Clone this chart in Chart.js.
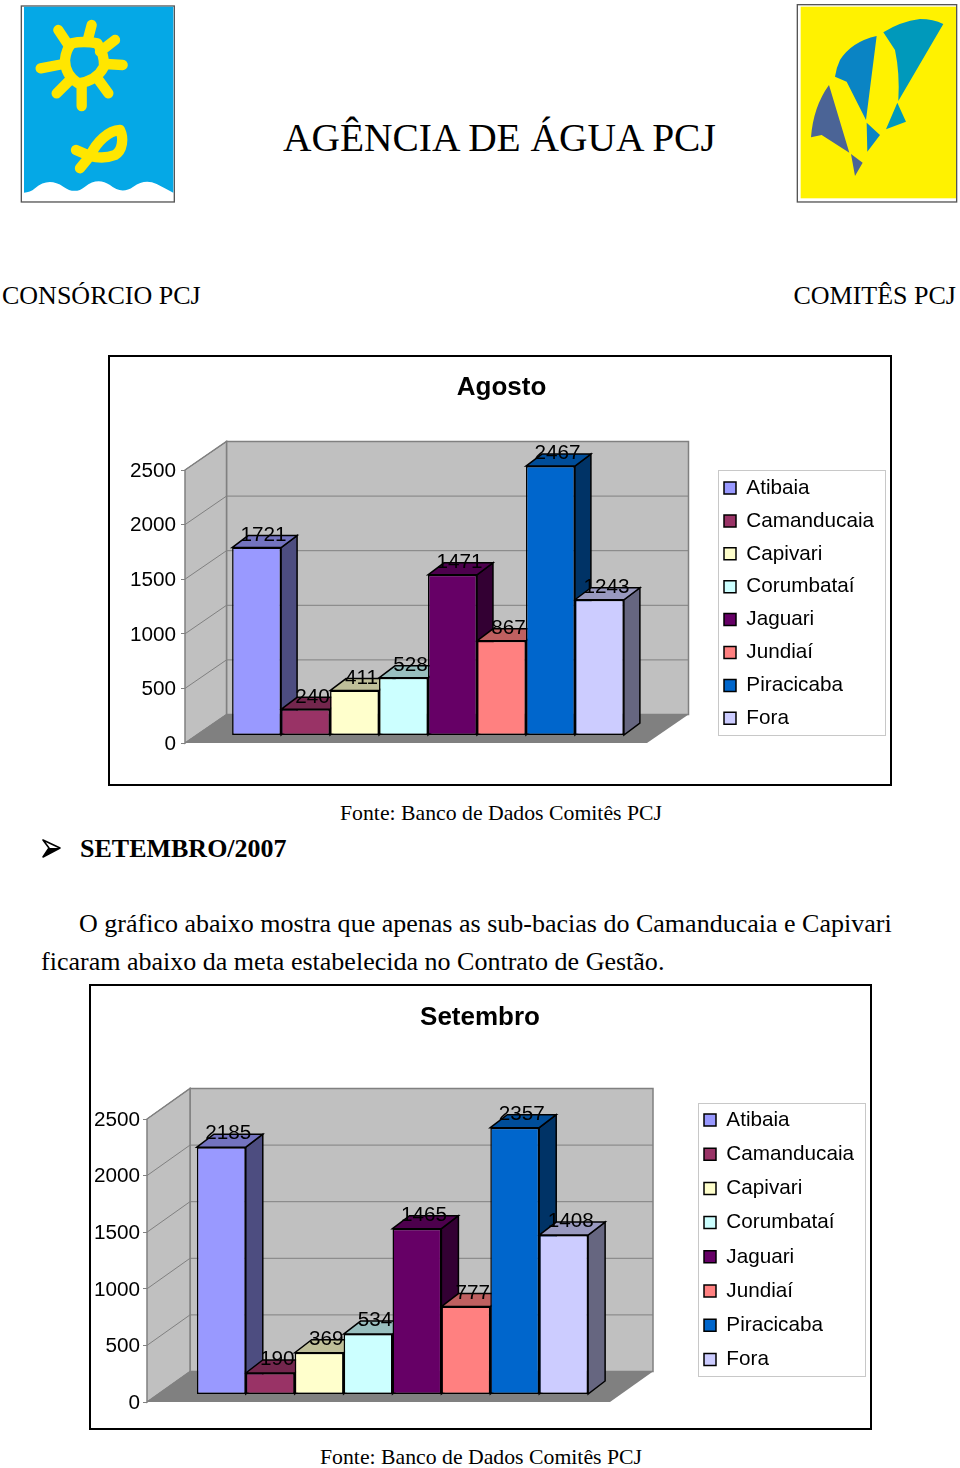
<!DOCTYPE html>
<html>
<head>
<meta charset="utf-8">
<title>Agência de Água PCJ</title>
<script src="https://cdn.jsdelivr.net/npm/chart.js@4"></script>
<style>
html, body { margin: 0; padding: 0; background: #fff; }
#page { position: relative; width: 960px; height: 1468px; overflow: hidden; font-family: "Liberation Serif", serif; color: #000; }
#page span { position: absolute; white-space: nowrap; line-height: 1; }
#page canvas { position: absolute; }
#logos { position: absolute; left: 0; top: 0; }
</style>
</head>
<body>
<div id="page">
  <svg id="logos" width="960" height="1468" viewBox="0 0 960 1468">
    <!-- left logo, sun and fish -->
    <g transform="scale(0.3333)">
      <rect x="64" y="18" width="459" height="588" fill="#fff" stroke="#555" stroke-width="4"/>
      <path d="M72,20 H520 V578 Q495,565 470,552 Q435,535 400,560 Q365,585 330,555 Q293,530 255,560 Q225,585 190,560 Q145,530 105,565 Q90,578 72,578 Z" fill="#05a8e6"/>
      <g fill="none" stroke="#ffe600" stroke-width="31" stroke-linecap="round" stroke-linejoin="round">
        <path d="M215,130 Q250,122 292,130 Q314,165 312,200 Q290,243 235,250 Q195,225 195,180 Q198,148 215,130 Z"/>
        <path d="M175,90 L205,135 M275,75 L262,125 M345,120 L300,155 M368,195 L318,192 M325,280 L290,232 M245,318 L245,255 M170,280 L210,240 M122,205 L190,192"/>
        <path d="M228,450 L270,468 M240,505 L270,468 M270,468 C290,425 325,392 360,390 C372,415 368,452 345,465 C320,475 290,473 270,468 Z"/>
      </g>
    </g>
    <!-- right logo, sails -->
    <g transform="translate(780,0) scale(0.3333)">
      <rect x="52" y="14" width="478" height="592" fill="#fff" stroke="#555" stroke-width="4"/>
      <rect x="62" y="20" width="466" height="575" fill="#fff200"/>
      <path d="M310,97 Q360,65 420,57 Q460,57 490,72 L355,303 Q360,220 345,150 Z M352,308 L378,365 L318,388 Z" fill="#0099bb"/>
      <path d="M290,108 Q215,125 180,180 Q168,205 165,230 L200,245 L258,360 Z M260,368 L300,405 L262,455 Z" fill="#0a84c4"/>
      <path d="M147,255 Q100,320 93,412 L125,405 L208,458 Z M213,462 L248,488 L225,528 Z" fill="#4b6496"/>
    </g>
    <!-- bullet arrow -->
    <path d="M43,840 L60,848 L43,857 L49,848 Z" fill="#fff" stroke="#000" stroke-width="1.6" stroke-linejoin="round"/>
    <path d="M43,857 L60,848 L49,848 Z" fill="#000"/>
  </svg>

  <span style="left:283px;top:119px;font-size:39.45px;">AGÊNCIA DE ÁGUA PCJ</span>
  <span style="left:2px;top:283px;font-size:26px;">CONSÓRCIO PCJ</span>
  <span style="right:4px;top:283px;font-size:26px;">COMITÊS PCJ</span>
  <span style="left:340px;top:803px;font-size:21.75px;">Fonte: Banco de Dados Comitês PCJ</span>
  <span style="left:80px;top:836px;font-size:26px;font-weight:bold;">SETEMBRO/2007</span>
  <span style="left:79px;top:911px;font-size:26.03px;">O gráfico abaixo mostra que apenas as sub-bacias do Camanducaia e Capivari</span>
  <span style="left:41px;top:948.5px;font-size:26.03px;">ficaram abaixo da meta estabelecida no Contrato de Gestão.</span>
  <span style="left:320px;top:1447px;font-size:21.75px;">Fonte: Banco de Dados Comitês PCJ</span>

  <canvas id="agosto" width="784" height="431" style="left:108px;top:355px;"></canvas>
  <canvas id="setembro" width="783" height="446" style="left:89px;top:984px;"></canvas>
</div>

<script>
// Data
var bacias = ["Atibaia", "Camanducaia", "Capivari", "Corumbataí", "Jaguari", "Jundiaí", "Piracicaba", "Fora"];
var agosto = [1721, 240, 411, 528, 1471, 867, 2467, 1243];
var setembro = [2185, 190, 369, 534, 1465, 777, 2357, 1408];
var yTicks = [0, 500, 1000, 1500, 2000, 2500];
var colors = ["#9999ff", "#993366", "#ffffcc", "#ccffff", "#660066", "#ff8080", "#0066cc", "#ccccff"];

var FONT = "'Liberation Sans', Arial, sans-serif";

// darker version of a bar colour, for the side and the top
function shade(hex, f) {
  var n = parseInt(hex.slice(1), 16);
  var r = Math.round((n >> 16) * f), g = Math.round(((n >> 8) & 255) * f), b = Math.round((n & 255) * f);
  return "rgb(" + r + "," + g + "," + b + ")";
}

function poly(ctx, pts, fill, stroke, lw) {
  ctx.beginPath();
  pts.forEach(function (p, i) { i ? ctx.lineTo(p[0], p[1]) : ctx.moveTo(p[0], p[1]); });
  ctx.closePath();
  if (fill) { ctx.fillStyle = fill; ctx.fill(); }
  if (stroke) { ctx.strokeStyle = stroke; ctx.lineWidth = lw; ctx.stroke(); }
}

// Fake 3D look: walls, floor, bar sides, frame and value labels
var depth3d = {
  id: "depth3d",
  afterLayout: function (chart, args, o) {
    var lg = chart.legend, pad = o.legendGap - 20.7;
    lg.left = o.legendX - pad;
    lg.right = o.legendX + 200;
    lg.top = o.legendY - 10.35 - pad;
    lg.bottom = chart.height + 100;
    // title is centred on the frame, not on what the legend leaves over
    chart.titleBlock.left = o.titleX - chart.width / 2;
    chart.titleBlock.right = o.titleX + chart.width / 2;
  },
  beforeDraw: function (chart, args, o) {
    var ctx = chart.ctx;
    ctx.save();
    ctx.strokeStyle = "#000";
    ctx.lineWidth = 2;
    ctx.strokeRect(1, 1, chart.width - 2, chart.height - 2);
    ctx.strokeStyle = "#c8c8c8";
    ctx.lineWidth = 1;
    ctx.strokeRect(o.legendBox[0] + 0.5, o.legendBox[1] + 0.5, o.legendBox[2], o.legendBox[3]);
    ctx.restore();
  },
  beforeDatasetsDraw: function (chart, args, o) {
    var ctx = chart.ctx, a = chart.chartArea, y = chart.scales.y;
    var dx = o.wall[0], dy = o.wall[1];
    ctx.save();
    poly(ctx, [[a.left + dx, a.top + dy], [a.right + dx, a.top + dy], [a.right + dx, a.bottom + dy], [a.left + dx, a.bottom + dy]], "#c0c0c0", "#808080", 1.5);
    poly(ctx, [[a.left, a.top], [a.left + dx, a.top + dy], [a.left + dx, a.bottom + dy], [a.left, a.bottom]], "#c0c0c0", "#808080", 1.5);
    poly(ctx, [[a.left, a.bottom], [a.left + dx, a.bottom + dy], [a.right + dx, a.bottom + dy], [a.right, a.bottom]], "#808080");
    ctx.strokeStyle = "#808080";
    ctx.lineWidth = 1;
    yTicks.forEach(function (v) {
      var py = y.getPixelForValue(v);
      ctx.beginPath();
      ctx.moveTo(a.left, py);
      ctx.lineTo(a.left + dx, py + dy);
      ctx.lineTo(a.right + dx, py + dy);
      ctx.stroke();
    });
    // sides and tops left to right, the library draws the fronts afterwards
    ctx.translate(o.shift[0], o.shift[1]);
    var bx = o.bar[0], by = o.bar[1];
    chart.data.datasets.forEach(function (ds, i) {
      var el = chart.getDatasetMeta(i).data[0];
      var l = el.x - el.width / 2, r = el.x + el.width / 2;
      poly(ctx, [[r, el.y], [r + bx, el.y + by], [r + bx, el.base + by], [r, el.base]], shade(colors[i], 0.5), "#000", 1.5);
      poly(ctx, [[l, el.y], [l + bx, el.y + by], [r + bx, el.y + by], [r, el.y]], shade(colors[i], 0.75), "#000", 1.5);
    });
    ctx.restore();
  },
  beforeDatasetDraw: function (chart, args, o) {
    chart.ctx.save();
    chart.ctx.translate(o.shift[0], o.shift[1]);
  },
  afterDatasetDraw: function (chart) {
    chart.ctx.restore();
  },
  afterDatasetsDraw: function (chart, args, o) {
    var ctx = chart.ctx;
    ctx.save();
    ctx.font = "20.7px " + FONT;
    ctx.fillStyle = "#000";
    ctx.textAlign = "center";
    ctx.textBaseline = "middle";
    chart.data.datasets.forEach(function (ds, i) {
      var el = chart.getDatasetMeta(i).data[0];
      ctx.fillText(String(ds.data[0]), el.x + o.shift[0] + 7, el.y + o.shift[1] - o.labelUp);
    });
    ctx.restore();
  }
};

function makeChart(id, title, values, g) {
  var chart = new Chart(document.getElementById(id), {
    type: "bar",
    plugins: [depth3d],
    data: {
      labels: [title],
      datasets: bacias.map(function (name, i) {
        return {
          label: name,
          data: [values[i]],
          backgroundColor: colors[i],
          borderColor: "#000",
          borderWidth: 1.5,
          borderSkipped: false,
          clip: false
        };
      })
    },
    options: {
      responsive: false,
      animation: false,
      events: [],
      layout: { padding: { left: 0, right: 0, top: 0, bottom: g.bottom } },
      categoryPercentage: g.barPct,
      barPercentage: 1,
      scales: {
        x: { display: false },
        y: {
          min: 0,
          max: 2500,
          afterFit: function (s) { s.width = g.axisW; },
          afterBuildTicks: function (s) { s.ticks = yTicks.map(function (v) { return { value: v }; }); },
          border: { display: false },
          grid: { drawOnChartArea: false, drawTicks: true, tickLength: 4, color: "#808080" },
          ticks: {
            color: "#000",
            padding: g.tickPad,
            labelOffset: 1,
            font: { family: FONT, size: 20.7 },
            callback: function (v) { return String(v); }
          }
        }
      },
      plugins: {
        tooltip: { enabled: false },
        title: {
          display: true,
          text: title,
          color: "#000",
          font: { family: FONT, size: 26, weight: "bold" },
          padding: { top: g.titleTop, bottom: g.titleBottom }
        },
        legend: {
          position: "right",
          align: "start",
          labels: {
            boxWidth: 12,
            boxHeight: 12,
            color: "#000",
            padding: g.legendGap - 20.7,
            font: { family: FONT, size: 20.7 }
          }
        },
        depth3d: g
      }
    }
  });
  // leave room so the plot ends where it should, whatever the legend measured
  chart.options.layout.padding.right = chart.width - g.plotRight - chart.legend.width;
  chart.update();
  return chart;
}

makeChart("agosto", "Agosto", agosto, {
  axisW: 77, plotRight: 539, bottom: 43, titleTop: 17.4, titleBottom: 66.4, barPct: 0.848, tickPad: 5, titleX: 393.5,
  wall: [41.5, -28.5], shift: [12, -7.5], bar: [16, -12], labelUp: 12.5,
  legendX: 616, legendY: 133, legendGap: 32.9, legendBox: [610, 115, 167, 265]
});
makeChart("setembro", "Setembro", setembro, {
  axisW: 58, plotRight: 521, bottom: 28, titleTop: 18.4, titleBottom: 85.4, barPct: 0.845, tickPad: 3, titleX: 391,
  wall: [43, -30.5], shift: [14, -7.5], bar: [17, -13], labelUp: 13.5,
  legendX: 615, legendY: 136, legendGap: 34.2, legendBox: [609, 119, 167, 273]
});
</script>
</body>
</html>
